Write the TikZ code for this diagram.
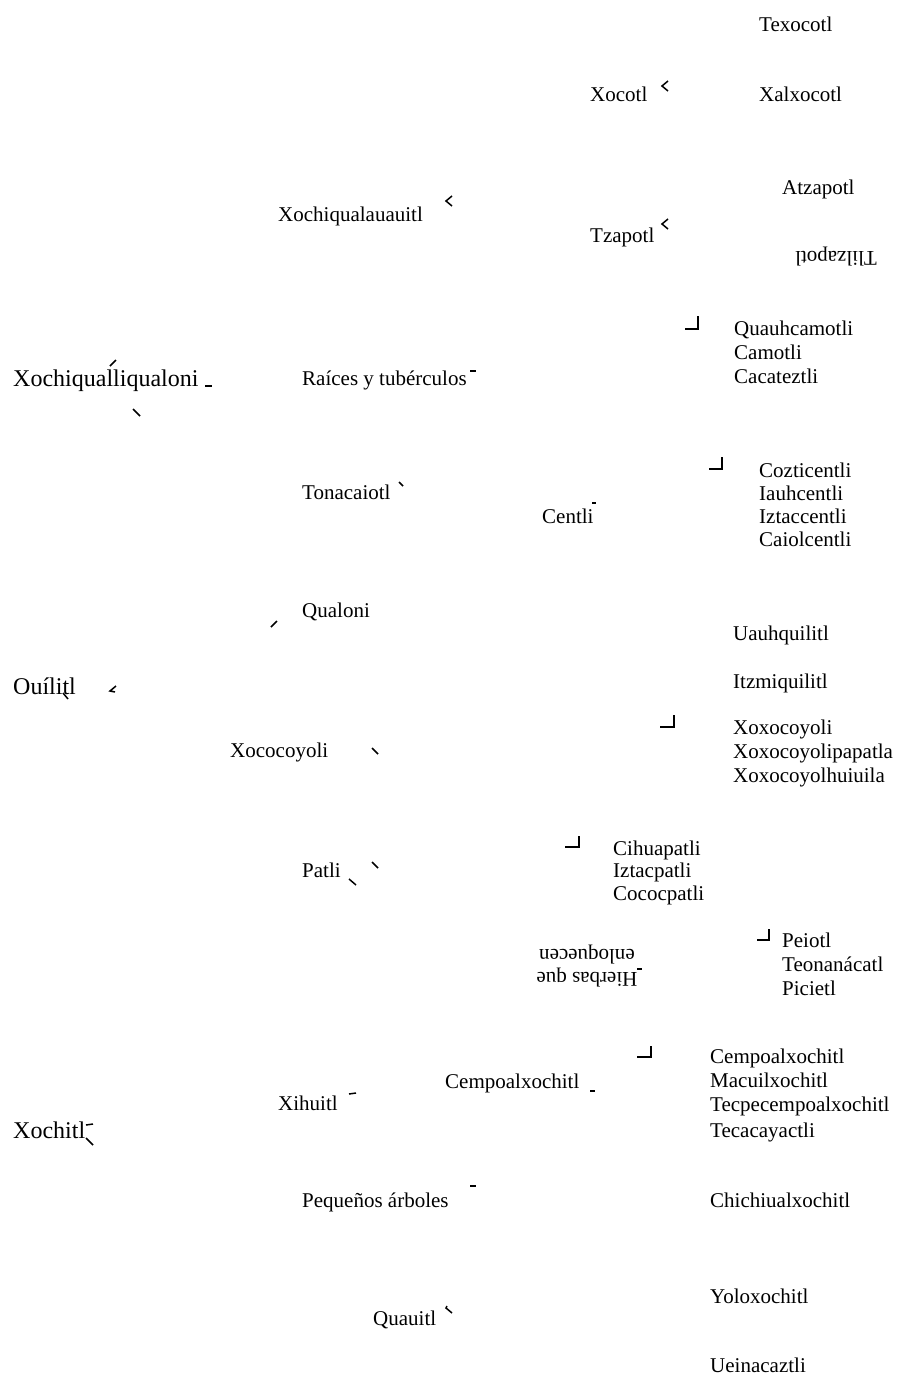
\documentclass[tikz,border=0pt]{standalone}
\usepackage{fontspec}
\setmainfont{Liberation Serif}

\begin{document}
\begin{tikzpicture}[x=1pt, y=-1pt, every node/.style={anchor=base west, inner sep=0pt, font=\fontsize{21}{23}\selectfont},
big/.style={font=\fontsize{24}{28}\selectfont}, stub/.style={line width=1.5pt}]
\useasboundingbox (0,0) rectangle (899,1378);

% roots
\node[big] (xochiqualliqualoni) at (13,386) {Xochiqualliqualoni};
\node[big] (ouilitl) at (13,694) {Ouílitl};
\node[big] (xochitl) at (13,1138) {Xochitl};

% second level
\node (xochiqualauauitl) at (278,221) {Xochiqualauauitl};
\node (raices) at (302,385) {Raíces y tubérculos};
\node (tonacaiotl) at (302,499) {Tonacaiotl};
\node (qualoni) at (302,617) {Qualoni};
\node (xococoyoli) at (230,757) {Xococoyoli};
\node (patli) at (302,877) {Patli};
\node (xihuitl) at (278,1110) {Xihuitl};
\node (pequenos) at (302,1207) {Pequeños árboles};
\node (quauitl) at (373,1325) {Quauitl};

% third level
\node (xocotl) at (590,102) {Xocotl};
\node (tzapotl) at (590,242) {Tzapotl};
\node (centli) at (542,523) {Centli};
\node[rotate=180, anchor=center, align=center] (hierbas) at (587,966) {Hierbas que\\enloquecen};
\node (cempoal) at (445,1088) {Cempoalxochitl};

% leaves
\node (texocotl) at (759,32) {Texocotl};
\node (xalxocotl) at (759,102) {Xalxocotl};
\node (atzapotl) at (782,194) {Atzapotl};
\node[rotate=180, anchor=center] (tlilzapotl) at (836,257) {Tlilzapotl};

\node (quauhcamotli) at (734,335) {Quauhcamotli};
\node (camotli) at (734,359) {Camotli};
\node (cacateztli) at (734,383) {Cacateztli};

\node (cozticentli) at (759,477) {Cozticentli};
\node (iauhcentli) at (759,500) {Iauhcentli};
\node (iztaccentli) at (759,523) {Iztaccentli};
\node (caiolcentli) at (759,546) {Caiolcentli};

\node (uauhquilitl) at (733,640) {Uauhquilitl};
\node (itzmiquilitl) at (733,688) {Itzmiquilitl};
\node (xoxocoyoli) at (733,734) {Xoxocoyoli};
\node (xoxopapatla) at (733,758) {Xoxocoyolipapatla};
\node (xoxohuiuila) at (733,782) {Xoxocoyolhuiuila};

\node (cihuapatli) at (613,855) {Cihuapatli};
\node (iztacpatli) at (613,877) {Iztacpatli};
\node (cococpatli) at (613,900) {Cococpatli};

\node (peiotl) at (782,947) {Peiotl};
\node (teonanacatl) at (782,971) {Teonanácatl};
\node (picietl) at (782,995) {Picietl};

\node (cempoalxochitl) at (710,1063) {Cempoalxochitl};
\node (macuilxochitl) at (710,1087) {Macuilxochitl};
\node (tecpe) at (710,1111) {Tecpecempoalxochitl};
\node (tecacayactli) at (710,1137) {Tecacayactli};

\node (chichiual) at (710,1207) {Chichiualxochitl};
\node (yoloxochitl) at (710,1303) {Yoloxochitl};
\node (ueinacaztli) at (710,1372) {Ueinacaztli};

% connector stubs
\draw[stub] (116,360) -- (110,366);
\draw[stub] (205,386) -- (212,386);
\draw[stub] (133,409) -- (140,416);
\draw[stub] (668,81) -- (662,86) -- (668,91);
\draw[stub] (668,219) -- (662,224) -- (668,229);
\draw[stub] (452,196) -- (446,201) -- (452,206);
\draw[stub] (685,329) -- (698,329) -- (698,316);
\draw[stub] (470,371) -- (476,371);
\draw[stub] (709,469) -- (722,469) -- (722,457);
\draw[stub] (399,482) -- (403,486);
\draw[stub] (592,503) -- (596,503);
\draw[stub] (271,627) -- (277,621);
\draw[stub] (63,693) -- (68,699);
\draw[stub] (116,686) -- (110,691) -- (115,692);
\draw[stub] (660,727) -- (674,727) -- (674,715);
\draw[stub] (372,748) -- (378,754);
\draw[stub] (565,847) -- (579,847) -- (579,836);
\draw[stub] (349,879) -- (356,885);
\draw[stub] (372,862) -- (378,868);
\draw[stub] (757,940) -- (769,940) -- (769,929);
\draw[stub] (637,969) -- (642,969);
\draw[stub] (637,1057) -- (651,1057) -- (651,1046);
\draw[stub] (590,1091) -- (595,1091);
\draw[stub] (349,1094) -- (356,1093);
\draw[stub] (86,1125) -- (93,1124);
\draw[stub] (86,1138) -- (93,1145);
\draw[stub] (470,1186) -- (476,1186);
\draw[stub] (447,1306) -- (446,1308) -- (452,1313);
\end{tikzpicture}
\end{document}
